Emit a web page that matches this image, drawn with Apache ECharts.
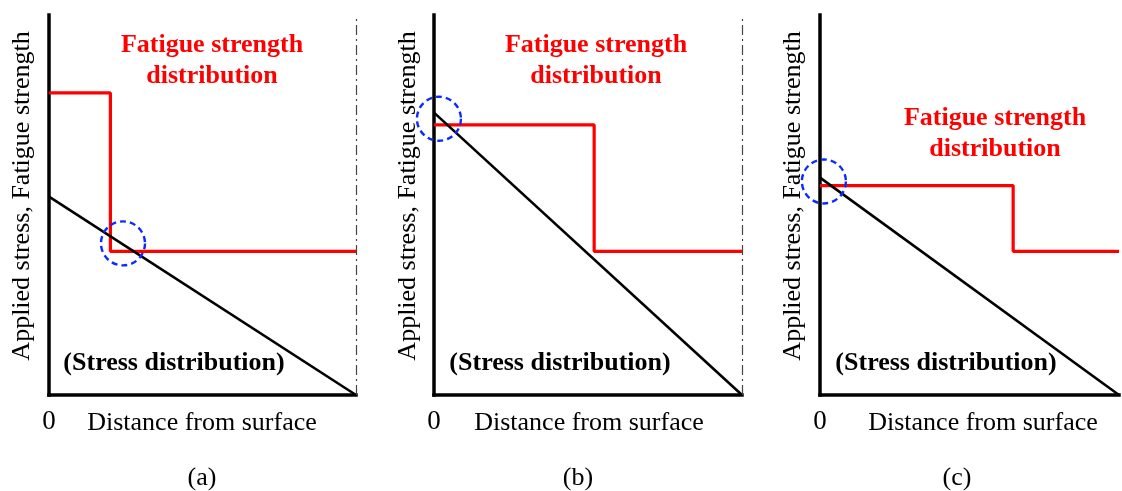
<!DOCTYPE html>
<html>
<head>
<meta charset="utf-8">
<script src="https://cdn.jsdelivr.net/npm/echarts@6/dist/echarts.min.js"></script>
<style>
  html, body { margin: 0; padding: 0; background: #fff; }
  #chart { width: 1122px; height: 491px; }
</style>
</head>
<body>
<div id="chart"></div>
<script>
// Three schematic cases: applied stress vs. fatigue strength over depth.
const panelTags = ['(a)', '(b)', '(c)'];
// Depth (0 = surface, 1 = far end) where the strengthened layer ends
const layerDepth = [0.2, 0.52, 0.646];
// Fatigue strength in the surface layer and in the core (relative units)
const strengthSurface = [79.5, 71.1, 55.1];
const strengthCore = [37.8, 37.8, 37.8];
// Applied stress at the surface and at the far end
const stressSurface = [52.2, 74.3, 57.2];
const stressEnd = [0, 0, 0];
// Critical location (crack initiation site)
const criticalDepth = [0.241, 0.016, 0.013];
const criticalLevel = [39.9, 72.7, 56.2];
// Whether the specimen centre line is drawn at the right end
const showCentreLine = [true, true, false];

const serif = "'Liberation Serif', 'Times New Roman', serif";
const RED = '#ff0000';
const BLUE = '#0a2aff';

const grids = [
  { left: 49, width: 307, top: 15, bottom: 96 },
  { left: 434, width: 308, top: 15, bottom: 96 },
  { left: 820, width: 304, top: 15, bottom: 96 }
];

// Annotation anchors for each panel
const headPos = [[212, 45], [596, 45], [995, 118]];
const stressTagPos = [174, 560, 946];
const yNameX = [22, 408, 793];
const xNameX = [202, 589, 983];
const tagX = [202, 578, 957];

const xAxes = [], yAxes = [], series = [], graphic = [];

panelTags.forEach((tag, i) => {
  xAxes.push({
    type: 'value', gridIndex: i, min: 0, max: 1, interval: 0.5,
    axisLine: { show: true, onZero: false, lineStyle: { color: '#000', width: 3.5, cap: 'square' } },
    axisTick: { show: false },
    splitLine: { show: false },
    axisLabel: {
      margin: 13, fontFamily: serif, fontSize: 27, color: '#000',
      formatter: v => (v === 0 ? '0' : '')
    }
  });
  yAxes.push({
    type: 'value', gridIndex: i, min: 0, max: 100,
    axisLine: { show: true, onZero: false, lineStyle: { color: '#000', width: 3.5, cap: 'square' } },
    axisTick: { show: false },
    splitLine: { show: false },
    axisLabel: { show: false }
  });

  // Fatigue strength: step between surface layer and core
  series.push({
    type: 'line', xAxisIndex: i, yAxisIndex: i, symbol: 'none', z: 3,
    lineStyle: { color: RED, width: 3.2 },
    data: [
      [0, strengthSurface[i]],
      [layerDepth[i], strengthSurface[i]],
      [layerDepth[i], strengthCore[i]],
      [1, strengthCore[i]]
    ],
    markLine: showCentreLine[i] ? {
      silent: true, symbol: 'none', label: { show: false },
      lineStyle: { color: '#444', width: 1.2, type: [10, 4, 2, 4] },
      data: [{ xAxis: 1 }]
    } : undefined
  });

  // Applied stress: linear decrease from the surface
  series.push({
    type: 'line', xAxisIndex: i, yAxisIndex: i, symbol: 'none', z: 4,
    lineStyle: { color: '#000', width: 2.6 },
    data: [[0, stressSurface[i]], [1, stressEnd[i]]]
  });

  // Critical point marker
  series.push({
    type: 'scatter', xAxisIndex: i, yAxisIndex: i, z: 5,
    symbol: 'circle', symbolSize: 44,
    itemStyle: { color: 'rgba(0,0,0,0)', opacity: 1, borderColor: BLUE, borderWidth: 2.4, borderType: [6, 4] },
    data: [[criticalDepth[i], criticalLevel[i]]]
  });

  graphic.push(
    {
      type: 'text', x: headPos[i][0], y: headPos[i][1],
      style: { text: 'Fatigue strength', fill: RED, font: `bold 26px ${serif}`, align: 'center', verticalAlign: 'middle' }
    },
    {
      type: 'text', x: headPos[i][0], y: headPos[i][1] + 31,
      style: { text: 'distribution', fill: RED, font: `bold 26px ${serif}`, align: 'center', verticalAlign: 'middle' }
    },
    {
      type: 'text', x: stressTagPos[i], y: 363,
      style: { text: '(Stress distribution)', fill: '#000', font: `bold 26px ${serif}`, align: 'center', verticalAlign: 'middle' }
    },
    {
      type: 'text', x: yNameX[i], y: 196, rotation: Math.PI / 2,
      style: { text: 'Applied stress, Fatigue strength', fill: '#000', font: `26px ${serif}`, align: 'center', verticalAlign: 'middle' }
    },
    {
      type: 'text', x: xNameX[i], y: 423,
      style: { text: 'Distance from surface', fill: '#000', font: `26px ${serif}`, align: 'center', verticalAlign: 'middle' }
    },
    {
      type: 'text', x: tagX[i], y: 478,
      style: { text: tag, fill: '#000', font: `26px ${serif}`, align: 'center', verticalAlign: 'middle' }
    }
  );
});

const chart = echarts.init(document.getElementById('chart'), null, { renderer: 'canvas' });
chart.setOption({
  animation: false,
  backgroundColor: '#fff',
  grid: grids,
  xAxis: xAxes,
  yAxis: yAxes,
  series: series,
  graphic: graphic
});
</script>
</body>
</html>
